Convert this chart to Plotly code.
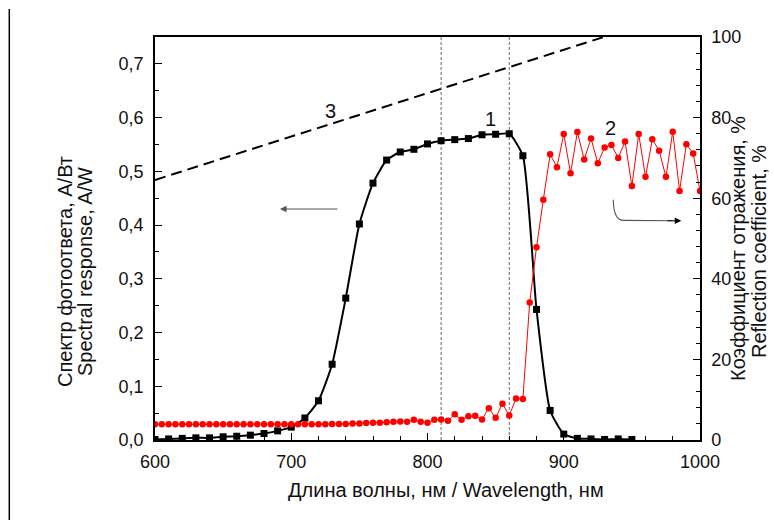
import plotly.graph_objects as go

# Curve 1: spectral response of the photodiode (A/W), left axis
resp_wl = [600, 610, 620, 630, 640, 650, 660, 670, 680, 690, 700, 710, 720, 730,
           740, 750, 760, 770, 780, 790, 800, 810, 820, 830, 840, 850, 860, 870,
           880, 890, 900, 910, 920, 930, 940, 950]
resp_val = [0.001, 0.002, 0.003, 0.004, 0.004, 0.006, 0.007, 0.009, 0.012, 0.017,
            0.024, 0.041, 0.073, 0.141, 0.264, 0.402, 0.478, 0.521, 0.536, 0.541,
            0.551, 0.557, 0.559, 0.561, 0.568, 0.569, 0.570, 0.529, 0.243, 0.055,
            0.011, 0.003, 0.002, 0.001, 0.002, 0.001]

# Curve 2: reflection coefficient (%), right axis, 5 nm step
refl_wl = list(range(600, 1001, 5))
refl_val = [3.9] * 21 + [
    3.9, 3.9, 3.9, 3.9, 3.9, 4.0, 4.0, 4.0, 4.1, 4.1,      # 705-750
    4.2, 4.3, 4.3, 4.4, 4.5, 4.6, 4.5, 5.0, 4.5, 4.3,      # 755-800
    5.0, 5.1, 4.8, 6.4, 5.0, 5.9, 6.0, 5.1, 7.9, 5.5,      # 805-850
    9.0, 6.1, 10.3, 10.2, 34.1, 47.8, 59.6, 70.9, 67.7, 75.9,  # 855-900
    66.2, 76.4, 69.6, 74.8, 68.7, 72.6, 73.2, 70.0, 74.1, 63.0,  # 905-950
    75.9, 65.3, 74.6, 71.8, 65.3, 76.5, 61.8, 73.4, 71.1, 61.8,  # 955-1000
]

# Curve 3: ideal response line (A/W)
ideal_wl = [600, 1000]
ideal_val = [0.484, 0.807]

# Wavelengths marked by dotted guide lines
guide_wl = [810, 860]

FONT = "Liberation Sans, Arial, sans-serif"

fig = go.Figure()

fig.add_trace(go.Scatter(
    x=ideal_wl, y=ideal_val, mode="lines",
    line=dict(color="black", width=2, dash="11px,6px"),
    hoverinfo="skip", showlegend=False))

fig.add_trace(go.Scatter(
    x=resp_wl, y=resp_val, mode="lines+markers",
    line=dict(color="black", width=2, shape="spline", smoothing=0.5),
    marker=dict(symbol="square", size=7, color="black"),
    showlegend=False))

fig.add_trace(go.Scatter(
    x=refl_wl, y=refl_val, mode="lines+markers", yaxis="y2",
    line=dict(color="#ff0000", width=1),
    marker=dict(symbol="circle", size=6.5, color="#ff0000"),
    showlegend=False))

for wl in guide_wl:
    fig.add_shape(type="line", xref="x", yref="paper", x0=wl, x1=wl, y0=0, y1=1,
                  line=dict(color="#666666", width=1, dash="3px,2px"), layer="below")

# Arrow pointing to the left axis
fig.add_annotation(x=691.7, y=0.430, ax=735, ay=0.430, xref="x", yref="y",
                   axref="x", ayref="y", text="", showarrow=True,
                   arrowhead=2, arrowsize=1.2, arrowwidth=1.1, arrowcolor="#555555")

# Curved arrow pointing to the right axis
fig.add_shape(type="path", xref="x", yref="y2",
              path="M 936.4,59.6 Q 936.4,54.4 944.5,54.5 L 980,54.4",
              line=dict(color="#555555", width=1.1))
fig.add_annotation(x=986.3, y=54.4, ax=975, ay=54.4, xref="x", yref="y2",
                   axref="x", ayref="y2", text="", showarrow=True,
                   arrowhead=2, arrowsize=1.2, arrowwidth=1.1, arrowcolor="black")

# Curve labels
for txt, xv, yv in [("3", 729, 0.613), ("1", 846, 0.597), ("2", 934, 0.580)]:
    fig.add_annotation(x=xv, y=yv, xref="x", yref="y", text=txt, showarrow=False,
                       font=dict(family=FONT, size=20, color="#111111"))

# Axis titles
W0, W1, H0, H1 = 155, 700, 37, 440
def px(xp):
    return (xp - W0) / (W1 - W0)
def py(yp):
    return (H1 - yp) / (H1 - H0)

title_font = dict(family=FONT, size=20, color="#111111")
for txt, xp, yp in [("Спектр фотоответа, А/Вт", 65, 272),
                    ("Spectral response, A/W", 85, 272)]:
    fig.add_annotation(x=px(xp), y=py(yp), xref="paper", yref="paper", text=txt,
                       textangle=-90, showarrow=False, font=title_font,
                       xanchor="center", yanchor="middle")
for txt, xp, yp in [("Коэффициент отражения, %", 738, 248),
                    ("Reflection coefficient, %", 759, 252)]:
    fig.add_annotation(x=px(xp), y=py(yp), xref="paper", yref="paper", text=txt,
                       textangle=-90, showarrow=False, font=title_font,
                       xanchor="center", yanchor="middle")
fig.add_annotation(x=px(446), y=py(490), xref="paper", yref="paper",
                   text="Длина волны, нм / Wavelength, нм", showarrow=False,
                   font=title_font, xanchor="center", yanchor="middle")

# Page border line at the left edge
fig.add_shape(type="line", xref="paper", yref="paper",
              x0=px(9.3), x1=px(9.3), y0=py(9), y1=py(520),
              line=dict(color="black", width=1.5))

tick_font = dict(family=FONT, size=18, color="#111111")
fig.update_layout(
    width=774, height=520,
    margin=dict(l=W0, r=774 - W1, t=H0, b=520 - H1),
    paper_bgcolor="white", plot_bgcolor="white",
    separators=", ",
    xaxis=dict(range=[600, 1000], dtick=100, tick0=600, ticks="inside", ticklen=7,
               tickwidth=1.3, tickcolor="black", showline=True, linewidth=1.5,
               linecolor="black", mirror=True, showgrid=False, zeroline=False,
               tickfont=tick_font, ticklabelstandoff=5,
               minor=dict(dtick=20, ticks="inside", ticklen=4, tickwidth=1.1,
                          tickcolor="black", showgrid=False)),
    yaxis=dict(range=[0, 0.75], dtick=0.1, tick0=0, tickformat=".1f",
               ticks="inside", ticklen=7, tickwidth=1.3, tickcolor="black",
               showline=True, linewidth=1.5, linecolor="black", showgrid=False,
               zeroline=False, tickfont=tick_font, ticklabelstandoff=6,
               minor=dict(dtick=0.05, ticks="inside", ticklen=4, tickwidth=1.1,
                          tickcolor="black", showgrid=False)),
    yaxis2=dict(range=[0, 100], dtick=20, tick0=0, overlaying="y", side="right",
                ticks="inside", ticklen=7, tickwidth=1.3, tickcolor="black",
                showline=True, linewidth=1.5, linecolor="black", showgrid=False,
                zeroline=False, tickfont=tick_font, ticklabelstandoff=6,
                minor=dict(dtick=4, ticks="inside", ticklen=4, tickwidth=1.1,
                           tickcolor="black", showgrid=False)),
)

fig.write_html("out.html")
